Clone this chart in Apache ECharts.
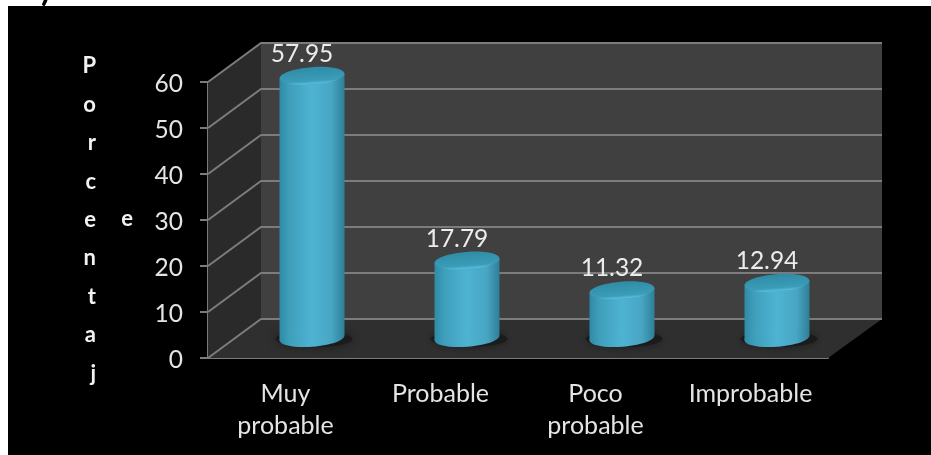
<!DOCTYPE html>
<html>
<head>
<meta charset="utf-8">
<style>html,body{margin:0;padding:0;background:#fff}#chart{width:931px;height:455px}</style>
<script src="https://cdn.jsdelivr.net/npm/echarts@6/dist/echarts.min.js"></script>
</head>
<body>
<div id="chart"></div>
<script>
// Percentages per response category
const categories = ['Muy\nprobable', 'Probable', 'Poco\nprobable', 'Improbable'];
const values = [57.95, 17.79, 11.32, 12.94];
const yTicks = [0, 10, 20, 30, 40, 50, 60];
const axisLetters = ['P', 'o', 'r', 'c', 'e', 'n', 't', 'a', 'j'];

const FONT = 'Lato, "Open Sans", sans-serif';
const DEPTH_X = 53, DEPTH_Y = 39;      // oblique offset from the front plane to the back wall
const GRID_COLOR = '#7c7c7c';
const RX = 32.5, RY = 8.8, TILT = 0.075; // cylinder cross-section

// Walls, floor and receding gridlines of the oblique 3D box
function renderScene(params, api) {
  const g = params.coordSys;
  const left = g.x, right = g.x + g.width, bottom = g.y + g.height;
  const children = [
    { type: 'rect', shape: { x: left + DEPTH_X, y: g.y - DEPTH_Y, width: g.width + 1, height: g.height },
      style: { fill: '#404040' } },
    { type: 'polygon', shape: { points: [[left, g.y], [left + DEPTH_X, g.y - DEPTH_Y], [left + DEPTH_X, bottom - DEPTH_Y], [left, bottom]] },
      style: { fill: '#2a2a2a' } },
    { type: 'polygon', shape: { points: [[left, bottom], [left + DEPTH_X, bottom - DEPTH_Y], [right + DEPTH_X + 1, bottom - DEPTH_Y], [right, bottom]] },
      style: { fill: '#2f2f2f' } }
  ];
  yTicks.forEach(function (t) {
    const y = api.coord([0, t])[1];
    children.push({ type: 'polyline',
      shape: { points: [[left, y], [left + DEPTH_X, y - DEPTH_Y], [right + DEPTH_X + 1, y - DEPTH_Y]] },
      style: { fill: 'none', stroke: GRID_COLOR, lineWidth: 2 } });
  });
  return { type: 'group', children: children };
}

// One cylinder: contact shadow, body, base, shaded cap and its value label
function renderCylinder(params, api) {
  const p = api.coord([api.value(0), api.value(1)]);
  const base = api.coord([api.value(0), 0]);
  const cx = p[0] + DEPTH_X / 2;
  const topY = p[1] - 15.5;
  const baseY = base[1] - 20;
  const bodyFill = new echarts.graphic.LinearGradient(0, 0, 1, 0, [
    { offset: 0, color: '#2f8aa6' },
    { offset: 0.15, color: '#3f9fbb' },
    { offset: 0.5, color: '#4eb3d2' },
    { offset: 0.8, color: '#48a6c3' },
    { offset: 1, color: '#2f7f98' }
  ]);
  const capFill = new echarts.graphic.LinearGradient(0, 0, 0, 1, [
    { offset: 0, color: '#2f8ba6' },
    { offset: 0.78, color: '#3b9db8' },
    { offset: 0.93, color: '#55bcd9' },
    { offset: 1, color: '#46abc8' }
  ]);
  const dy = RX * TILT;
  return { type: 'group', children: [
    { type: 'ellipse', shape: { cx: cx + 2, cy: baseY + 1, rx: RX + 6, ry: RY - 1 },
      style: { fill: '#1b1b1b', shadowBlur: 9, shadowColor: '#1b1b1b' } },
    { type: 'polygon', shape: { points: [[cx - RX, topY + dy], [cx + RX, topY - dy], [cx + RX, baseY - dy], [cx - RX, baseY + dy]] },
      style: { fill: bodyFill } },
    { type: 'ellipse', shape: { cx: 0, cy: 0, rx: RX, ry: RY }, x: cx, y: baseY,
      rotation: TILT, style: { fill: bodyFill } },
    { type: 'ellipse', shape: { cx: 0, cy: 0, rx: RX, ry: RY }, x: cx, y: topY,
      rotation: TILT, style: { fill: capFill } },
    { type: 'text', x: cx - 10, y: topY - 22,
      style: { text: api.value(1).toFixed(2), fill: '#ececec', font: '24.5px ' + FONT, align: 'center', verticalAlign: 'middle' } }
  ] };
}

const chart = echarts.init(document.getElementById('chart'), null, { renderer: 'canvas' });
chart.setOption({
  animation: false,
  backgroundColor: '#ffffff',
  grid: { left: 208, right: 103, top: 82, bottom: 97 },
  xAxis: {
    type: 'category',
    data: categories,
    boundaryGap: true,
    axisLine: { lineStyle: { color: GRID_COLOR, width: 2 } },
    axisTick: { alignWithLabel: false, length: 10, lineStyle: { color: GRID_COLOR, width: 2 } },
    axisLabel: { color: '#e4e4e4', fontFamily: FONT, fontSize: 25, lineHeight: 32, margin: 20, interval: 0 }
  },
  yAxis: {
    type: 'value', min: 0, max: 60, interval: 10,
    name: axisLetters.join('\n'),
    nameLocation: 'middle',
    nameRotate: 0,
    nameGap: 112,
    nameTextStyle: { color: '#f2f2f2', fontFamily: FONT, fontWeight: 'bold', fontSize: 22, lineHeight: 38.4 },
    splitLine: { show: false },
    axisLine: { show: true, lineStyle: { color: GRID_COLOR, width: 2 } },
    axisTick: { show: true, length: 8, lineStyle: { color: GRID_COLOR, width: 2 } },
    axisLabel: { color: '#e4e4e4', fontFamily: FONT, fontSize: 24.5, margin: 25, verticalAlign: 'top', lineHeight: 4 }
  },
  graphic: [
    { type: 'rect', z: -10, shape: { x: 8, y: 6, width: 923, height: 449 }, style: { fill: '#000000' } },
    { type: 'text', z: 10, x: 127, y: 219,
      style: { text: 'e', fill: '#f2f2f2', font: 'bold 22px ' + FONT, align: 'center', verticalAlign: 'middle' } },
    { type: 'text', z: 10, x: 41, y: -27,
      style: { text: ')', fill: '#000000', font: 'bold 34px ' + FONT } }
  ],
  series: [
    { type: 'custom', z: 1, silent: true, clip: false, data: [[0, 0]], renderItem: renderScene },
    { type: 'custom', z: 3, silent: true, clip: false,
      data: values.map(function (v, i) { return [i, v]; }),
      encode: { x: 0, y: 1 },
      renderItem: renderCylinder }
  ]
});
</script>
</body>
</html>
